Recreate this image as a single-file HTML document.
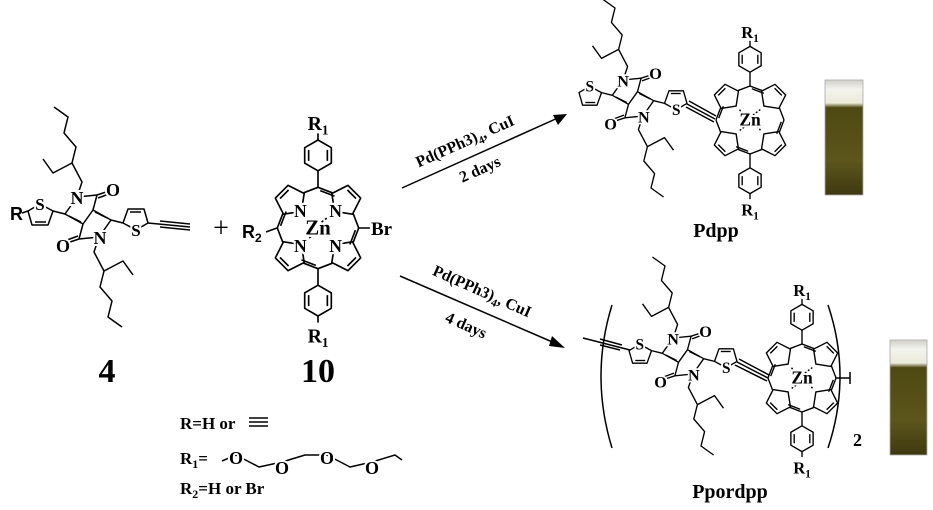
<!DOCTYPE html>
<html><head><meta charset="utf-8"><style>
html,body{margin:0;padding:0;background:#fff;}
svg{display:block;}
text{font-family:"Liberation Serif",serif;font-weight:bold;fill:#000;}
.l{fill:none;stroke:#000;stroke-width:1.5;stroke-linejoin:round;}
.m{paint-order:stroke;stroke:#fff;stroke-width:4px;}
</style></head><body>
<svg width="933" height="510" viewBox="0 0 933 510" xmlns="http://www.w3.org/2000/svg">
<defs>
  <g id="half">
    <polyline class="l" points="-23,-3 -11,-20 9,-22 5,-7"/>
    <line class="l" x1="-23" y1="-3" x2="-5" y2="7"/>
    <line class="l" x1="-19" y1="-1" x2="-7" y2="5"/>
    <line class="l" x1="9" y1="-22" x2="21" y2="-26"/>
    <line class="l" x1="10" y1="-19" x2="21" y2="-23"/>
    <polyline class="l" points="-11,-20 -6,-35 -16,-54 -12,-70 -24,-84 -20,-100 -34,-110"/>
    <polyline class="l" points="-16,-54 -35,-44 -45,-58"/>
    <polygon class="l" points="-35,-6 -48,-13 -60,-6 -56,8 -40,8"/>
    <line class="l" x1="-53" y1="5" x2="-42" y2="5"/>
    <line class="l" x1="-23" y1="-3" x2="-35" y2="-6"/>
  </g>
  <g id="dpp">
    <use href="#half"/>
    <use href="#half" transform="rotate(180)"/>
    <line class="l" x1="5" y1="-7" x2="-5" y2="7"/>
    <text x="-11" y="-13" font-size="18" text-anchor="middle" class="m">N</text>
    <text x="12" y="27" font-size="18" text-anchor="middle" class="m">N</text>
    <text x="25" y="-21" font-size="18" text-anchor="middle" class="m">O</text>
    <text x="-25" y="35" font-size="18" text-anchor="middle" class="m">O</text>
    <text x="-48" y="-7" font-size="17" text-anchor="middle" class="m">S</text>
    <text x="48" y="19" font-size="17" text-anchor="middle" class="m">S</text>
  </g>
  <g id="pyr">
    <g transform="translate(25,-25) rotate(225)">
      <polygon class="l" points="0,-14 13.3,-4.3 8.2,11.3 -8.2,11.3 -13.3,-4.3"/>
      <line class="l" x1="-5.5" y1="8" x2="5.5" y2="8"/>
    </g>
    <line class="l" x1="13" y1="-32" x2="0" y2="-37"/>
    <line class="l" x1="15" y1="-29" x2="2" y2="-34"/>
    <line class="l" x1="32" y1="-13" x2="37" y2="0"/>
    <line class="l" x1="0" y1="-3" x2="12" y2="-12" stroke-dasharray="2,2"/>
  </g>
  <g id="phen">
    <line class="l" x1="0" y1="-37" x2="0" y2="-52"/>
    <polygon class="l" points="0,-80 12.1,-73 12.1,-59 0,-52 -12.1,-59 -12.1,-73"/>
    <line class="l" x1="-8.5" y1="-71" x2="-8.5" y2="-61"/>
    <line class="l" x1="8.5" y1="-71" x2="8.5" y2="-61"/>
    <line class="l" x1="0" y1="-80" x2="0" y2="-86"/>
  </g>
  <g id="por">
    <use href="#pyr"/>
    <use href="#pyr" transform="rotate(90)"/>
    <use href="#pyr" transform="rotate(180)"/>
    <use href="#pyr" transform="rotate(270)"/>
    <use href="#phen"/>
    <use href="#phen" transform="rotate(180)"/>
    <text x="0" y="6" font-size="19" text-anchor="middle" class="m">Zn</text>
    <text x="0" y="-89" font-size="18" text-anchor="middle">R<tspan font-size="12" dy="4">1</tspan></text>
    <text x="0" y="104" font-size="18" text-anchor="middle">R<tspan font-size="12" dy="4">1</tspan></text>
  </g>
  <g id="porN">
    <use href="#por"/>
    <text x="-16" y="-10" font-size="16" text-anchor="middle" class="m">N</text>
    <text x="16" y="-10" font-size="16" text-anchor="middle" class="m">N</text>
    <text x="-16" y="22" font-size="16" text-anchor="middle" class="m">N</text>
    <text x="16" y="22" font-size="16" text-anchor="middle" class="m">N</text>
    <text x="0" y="6" font-size="19" text-anchor="middle" class="m">Zn</text>
  </g>
  <linearGradient id="vg" x1="0" y1="0" x2="0" y2="1">
    <stop offset="0" stop-color="#cfcfc8"/><stop offset="0.08" stop-color="#f4f4ee"/>
    <stop offset="0.2" stop-color="#ecead8"/>
    <stop offset="0.24" stop-color="#4e4812"/><stop offset="0.7" stop-color="#5c561c"/>
    <stop offset="1" stop-color="#3e3810"/>
  </linearGradient>
</defs>

<!-- compound 4 -->
<use href="#dpp" transform="translate(88,217)"/>
<line class="l" x1="28" y1="211" x2="22" y2="213"/>
<text x="10" y="220" font-size="18" style="font-family:'Liberation Sans',sans-serif">R</text>
<line class="l" x1="148" y1="223" x2="190" y2="227"/>
<line class="l" x1="160" y1="221" x2="190" y2="224"/>
<line class="l" x1="160" y1="227" x2="190" y2="230"/>
<text x="107" y="382" font-size="34" text-anchor="middle">4</text>

<text x="221" y="237" font-size="28" text-anchor="middle" style="font-weight:normal">+</text>

<!-- compound 10 -->
<g transform="translate(318,228) scale(1.1)"><use href="#porN"/></g>
<line class="l" x1="359" y1="228" x2="370" y2="228"/>
<text x="371" y="235" font-size="19">Br</text>
<line class="l" x1="277" y1="228" x2="266" y2="232"/>
<text x="242" y="238" font-size="18" style="font-family:'Liberation Sans',sans-serif">R<tspan font-size="12" dy="4">2</tspan></text>
<text x="318" y="382" font-size="34" text-anchor="middle">10</text>

<!-- arrows -->
<line class="l" x1="402" y1="188" x2="560" y2="117"/>
<polygon points="567,114 553,115 558,125"/>
<text transform="translate(467,146) rotate(-24)" font-size="16" text-anchor="middle">Pd(PPh3)<tspan font-size="11" dy="4">4</tspan><tspan dy="-4">, CuI</tspan></text>
<text transform="translate(482,174) rotate(-24)" font-size="16" text-anchor="middle">2 days</text>
<line class="l" x1="400" y1="276" x2="557" y2="344"/>
<polygon points="565,348 552,336 549,346"/>
<text transform="translate(480,296) rotate(24)" font-size="16" text-anchor="middle">Pd(PPh3)<tspan font-size="11" dy="4">4</tspan><tspan dy="-4">, CuI</tspan></text>
<text transform="translate(464,330) rotate(24)" font-size="16" text-anchor="middle">4 days</text>

<!-- legend -->
<text x="180" y="429" font-size="17">R=H or</text>
<line class="l" x1="249" y1="418" x2="268" y2="418"/>
<line class="l" x1="249" y1="422" x2="268" y2="422"/>
<line class="l" x1="249" y1="426" x2="268" y2="426"/>
<text x="180" y="464" font-size="17">R<tspan font-size="12" dy="4">1</tspan><tspan dy="-4">=</tspan></text>
<polyline class="l" points="222,461 236,455 259,467 282,462 305,455 327,455 350,467 372,462 395,455 402,460"/>
<text x="236" y="464" font-size="18" text-anchor="middle" class="m">O</text>
<text x="282" y="474" font-size="18" text-anchor="middle" class="m">O</text>
<text x="327" y="464" font-size="18" text-anchor="middle" class="m">O</text>
<text x="372" y="474" font-size="18" text-anchor="middle" class="m">O</text>
<text x="180" y="494" font-size="17">R<tspan font-size="12" dy="4">2</tspan><tspan dy="-4">=H or Br</tspan></text>

<!-- Pdpp -->
<g transform="translate(633,98) scale(0.9)"><use href="#dpp"/></g>
<line class="l" x1="687" y1="104" x2="715" y2="119"/>
<line class="l" x1="689" y1="101" x2="716" y2="116"/>
<line class="l" x1="686" y1="107" x2="714" y2="122"/>
<g transform="translate(750,120) scale(0.92)"><use href="#por"/></g>
<text x="716" y="237" font-size="20" text-anchor="middle">Pdpp</text>
<rect x="825" y="80" width="38" height="115" fill="url(#vg)" stroke="#aaa" stroke-width="0.8"/>

<!-- Ppordpp -->
<path class="l" d="M612,305 Q590,376 612,448"/>
<path class="l" d="M828,305 Q852,376 828,448"/>
<text x="853" y="446" font-size="18">2</text>
<line class="l" x1="583" y1="338" x2="630" y2="350"/>
<line class="l" x1="600" y1="339" x2="622" y2="345"/>
<line class="l" x1="600" y1="345" x2="620" y2="350"/>
<g transform="translate(683,356) scale(0.9)"><use href="#dpp"/></g>
<line class="l" x1="737" y1="362" x2="768" y2="378"/>
<line class="l" x1="739" y1="359" x2="769" y2="375"/>
<line class="l" x1="735" y1="365" x2="767" y2="381"/>
<g transform="translate(802,378) scale(0.92)"><use href="#por"/></g>
<line class="l" x1="836" y1="378" x2="850" y2="378"/>
<line class="l" x1="850" y1="372" x2="850" y2="384"/>
<text x="730" y="498" font-size="20" text-anchor="middle">Ppordpp</text>
<rect x="890" y="340" width="37" height="115" fill="url(#vg)" stroke="#aaa" stroke-width="0.8"/>
</svg>
</body></html>
